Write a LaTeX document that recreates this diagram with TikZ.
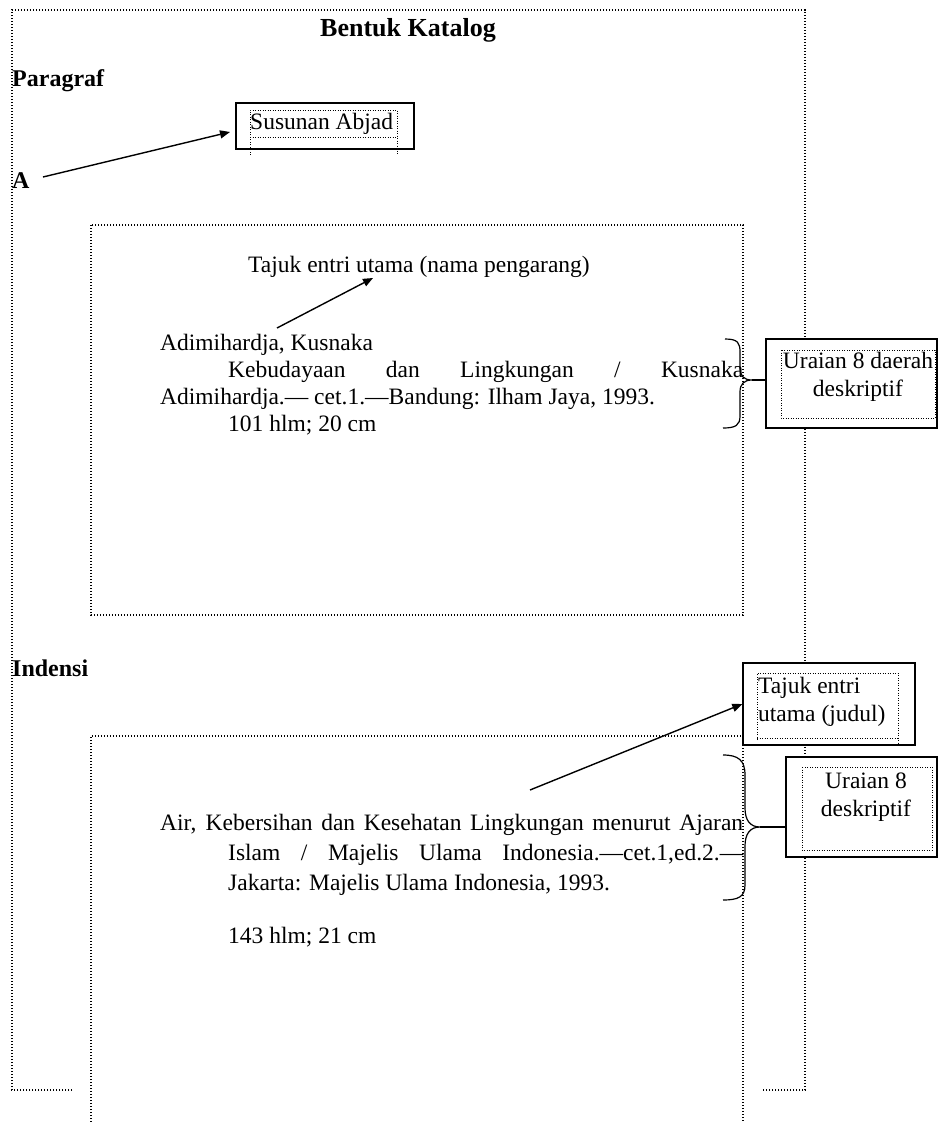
\documentclass[tikz,border=0pt]{standalone}
\usepackage{fontspec}
\setmainfont{Liberation Serif}
\usetikzlibrary{arrows.meta}
\begin{document}
\begin{tikzpicture}[x=1pt,y=-1pt,
  dotline/.style={line width=1.1pt,dash pattern=on 1.1pt off 1.9pt},
  thindot/.style={line width=0.9pt,dash pattern=on 0.9pt off 1.6pt},
  solidbox/.style={draw,line width=1.4pt,fill=white,inner sep=0pt},
  body/.style={anchor=base west,inner sep=0pt,font=\fontsize{23.5}{27}\selectfont},
  heading/.style={anchor=base west,inner sep=0pt,font=\fontsize{24}{27}\selectfont\bfseries},
  arr/.style={line width=1.4pt,-{Triangle[length=10pt,width=8pt]}},
  bracestyle/.style={line width=1.2pt}]
\useasboundingbox (0,0) rectangle (940,1122);
% outer frame
\draw[dotline] (72,1090) -- (12,1090) -- (12,10) -- (805,10) -- (805,1090) -- (762,1090);
% upper inner box
\draw[dotline] (91,225) rectangle (743,615);
% lower inner box
\draw[dotline] (91,1122) -- (91,736) -- (743,736) -- (743,1122);
% headings
\node[heading,anchor=base,font=\fontsize{26}{29}\selectfont\bfseries] (title) at (408,36) {Bentuk Katalog};
\node[heading] (para) at (12,86) {Paragraf};
\node[heading] (A) at (12,188) {A};
\node[heading] (ind) at (12,676) {Indensi};
% Susunan Abjad box
\node[solidbox,minimum width=178pt,minimum height=46pt] (abjad) at (325,126) {};
\draw[thindot] (250,155) -- (250,110) -- (397,110) -- (397,155);
\draw[thindot] (250,137) -- (397,137);
\node[body] (abjadtxt) at (250,129) {Susunan Abjad};
\coordinate (aStart) at (43,177);
\draw[arr] (aStart) -- (230,132) coordinate (aEnd);
% upper entry
\node[body] (tajuk1) at (248,272) {Tajuk entri utama (nama pengarang)};
\node[body] (l1) at (160,350) {Adimihardja, Kusnaka};
\node[body] (l2) at (228,377) {\makebox[515pt][s]{Kebudayaan dan Lingkungan / Kusnaka}};
\node[body] (l3) at (160,404) {Adimihardja.— cet.1.—Bandung: Ilham Jaya, 1993.};
\node[body] (l4) at (228,431) {101 hlm; 20 cm};
\coordinate (t1s) at (277,328);
\coordinate (t1e) at (373,278);
\draw[arr] (t1s) -- (t1e);
% brace 1
\coordinate (b1tip) at (752,380);
\draw[bracestyle] (725,339) .. controls (738,339) and (740,343) .. (740,352) -- (740,368) .. controls (740,376) and (744,380) .. (b1tip) .. controls (744,380) and (740,384) .. (740,392) -- (740,416) .. controls (740,425) and (736,428) .. (723,428);
% Uraian 8 daerah box
\node[solidbox,minimum width=171pt,minimum height=89pt] (ur1) at (851.5,383.5) {};
\draw[thindot] (781,350) rectangle (935,418);
\node[body,anchor=base] (ur1a) at (858,368) {Uraian 8 daerah};
\node[body,anchor=base] (ur1b) at (858,396) {deskriptif};
\draw[line width=1.4pt] (b1tip) -- (ur1.west |- b1tip);
% lower entry
\node[solidbox,minimum width=172pt,minimum height=82pt] (tajuk2) at (829,704) {};
\draw[thindot] (757,740) -- (757,673) -- (898,673) -- (898,743);
\draw[thindot] (757,738) -- (898,738);
\node[body] (tj2a) at (758,693) {Tajuk entri};
\node[body] (tj2b) at (758,721) {utama (judul)};
\coordinate (t2s) at (530,790);
\draw[arr] (t2s) -- (tajuk2.west);
\node[body] (m1) at (160,830) {\makebox[583pt][s]{Air, Kebersihan dan Kesehatan Lingkungan menurut Ajaran}};
\node[body] (m2) at (228,860) {\makebox[515pt][s]{Islam / Majelis Ulama Indonesia.—cet.1,ed.2.—}};
\node[body] (m3) at (228,890) {Jakarta: Majelis Ulama Indonesia, 1993.};
\node[body] (m4) at (228,943) {143 hlm; 21 cm};
% brace 2
\coordinate (b2tip) at (760,827);
\draw[bracestyle] (723,755) .. controls (738,755) and (745,760) .. (745,775) -- (745,808) .. controls (745,820) and (750,827) .. (b2tip) .. controls (750,827) and (745,834) .. (745,846) -- (745,885) .. controls (745,897) and (738,900) .. (723,900);
\node[solidbox,minimum width=151pt,minimum height=100pt] (ur2) at (861.5,807) {};
\draw[thindot] (802,767) rectangle (932,850);
\node[body,anchor=base] (ur2a) at (866,788) {Uraian 8};
\node[body,anchor=base] (ur2b) at (866,816) {deskriptif};
\draw[line width=1.4pt] (b2tip) -- (ur2.west |- b2tip);
\end{tikzpicture}
\end{document}
